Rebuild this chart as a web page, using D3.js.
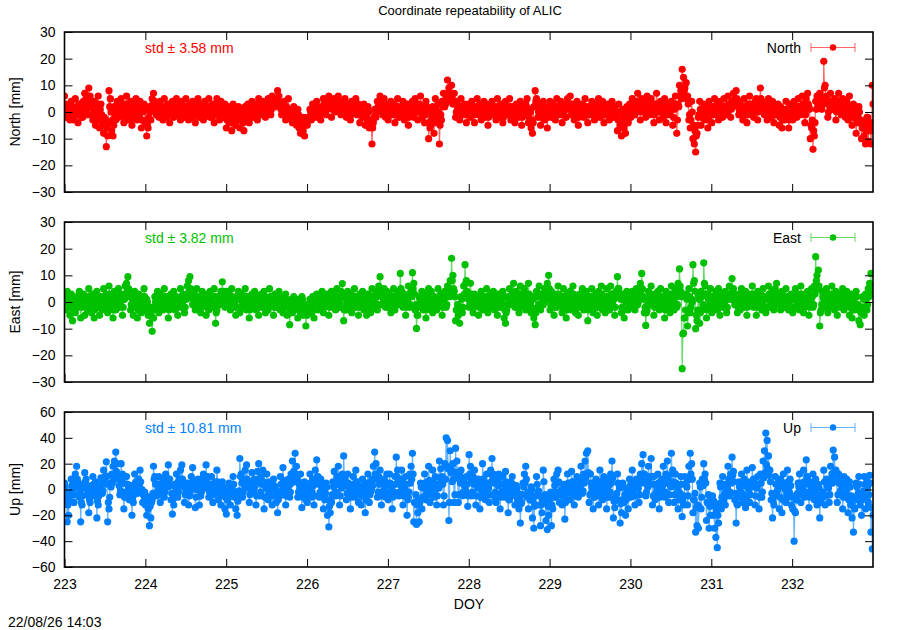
<!DOCTYPE html>
<html>
<head>
<meta charset="utf-8">
<script src="https://cdn.jsdelivr.net/npm/d3@7"></script>
<style>
  body { margin: 0; background: #fff; }
  svg { font-family: "Liberation Sans", Arial, sans-serif; }
</style>
</head>
<body>
<div id="chart"></div>
<script>
// epochs: regular sampling over DOY 223..233
const doyStart = 223;
const doyEnd = 233;
const dayTicks = [223, 224, 225, 226, 227, 228, 229, 230, 231, 232];

// residuals in mm, one row per day
const north = [
  6,3,-1,2,-3,4,1,-2,5,0, -4,3,1,-2,4,7,5,-1,9,6, 2,-3,4,-5,1,6,-6,3,-2,-8, -5,-13,-9,8,5,-7,-9,2,-3,4, -2,3,5,-1,-4,2,6,-3,1,4, -5,-2,3,5,-3,0,4,-6,2,3,
  -4,-9,-6,2,-3,5,7,4,-1,3, -2,4,1,-3,5,2,-1,3,-4,0, 4,-2,3,5,-1,2,-3,4,0,-2, 5,1,-3,3,-1,4,2,-4,1,5, -2,3,0,-3,4,2,-1,5,-2,1, 3,-4,2,5,-1,-3,4,1,-2,3,
  -6,2,-4,1,-7,3,-2,-5,0,2, -6,1,-3,-7,2,-1,3,-4,1,4, -2,3,0,-3,5,2,-1,4,1,-2, 3,5,1,-1,6,4,2,5,8,6, 3,-1,2,4,-3,1,5,-2,0,-4, 2,-3,-5,1,-6,-8,-3,-7,-9,-4,
  -5,-2,1,-3,3,-1,2,4,-2,1, -3,2,5,1,-1,4,6,2,-2,3, 5,0,3,6,1,-1,4,2,5,-2, 3,1,-3,4,0,2,5,-1,3,-4, 1,-2,3,-5,-1,2,-6,-3,-12,-4, 1,-2,4,2,6,3,-1,5,-2,2,
  -3,2,4,-1,3,-4,1,5,-2,2, -1,4,-3,1,3,-5,2,0,4,-2, 5,1,-3,3,6,-2,2,-4,4,1, -10,-6,-3,2,-8,5,-4,3,-12,-1, 4,7,2,5,12,9,6,10,3,7, -2,4,1,-3,5,2,-1,3,-4,2,
  3,-2,4,1,-4,2,5,-1,3,-3, 1,4,-2,3,-5,2,0,4,-1,2, -3,5,1,-2,3,-4,2,4,-1,1, 5,-3,2,0,-4,3,1,-2,4,-5, 2,-1,3,5,-4,1,-6,-8,2,8, 5,-2,3,-5,1,4,-3,2,-6,1,
  4,-2,3,1,-3,5,2,-1,4,-4, 1,3,-2,5,2,6,-1,3,-3,1, 4,-5,2,0,3,-2,5,1,-4,2, -1,4,2,-3,3,-1,5,-2,1,4, -4,2,-1,3,-3,1,4,-2,2,-1, -7,3,-5,-9,1,-6,-8,2,-4,3,
  -2,5,3,-1,4,7,2,-3,5,1, 4,-2,6,3,-1,5,2,-4,3,7, 1,-3,4,2,-2,5,-4,3,1,-1, 4,-5,2,6,-8,3,10,8,16,13, 9,11,6,-3,-6,4,-10,-12,-15,-8, -2,4,-5,1,3,-3,2,-6,4,1,
  -4,2,5,-1,3,-3,4,1,-2,5, 2,-1,6,3,-2,4,7,5,8,3, -1,4,2,-3,5,1,-4,3,6,0, 2,-2,4,5,-3,1,9,4,2,-1, 3,-3,5,1,-2,4,-4,2,-1,3, -5,2,-6,1,-3,4,-2,-6,3,1,
  -3,4,1,-2,5,2,-1,6,3,-4, 5,7,2,-10,-6,-14,-9,4,6,3, 7,2,5,19,10,6,-2,4,7,1, 3,5,-3,2,7,4,-1,5,2,-2, 4,-3,6,1,-5,3,-2,-8,-3,2, -4,-10,-6,-9,-12,-2,-11,-7,-12,10
];
// half-step epochs between the ones above
const northB = [
  1,-2,0,3,-1,2,-3,1,0,2, -1,3,0,-2,2,4,1,3,5,2, -1,1,-2,0,3,-3,1,-1,-4,-2, -3,-6,-4,2,0,-3,-5,-1,1,-2, 0,2,-1,1,-2,3,0,-1,2,-3, -1,1,-2,2,0,-2,1,-3,0,1,
  -3,-5,-2,0,1,3,4,2,0,-1, 1,2,-1,0,2,-2,1,0,-1,2, 1,0,2,-1,1,3,-2,0,2,1, 2,-1,0,1,-2,2,0,-1,3,1, 0,-1,2,-2,1,0,2,-1,1,-2, 0,2,-1,1,3,-1,0,2,-2,1,
  -3,-1,-2,0,-4,1,-2,-1,-3,0, -2,0,-4,-1,1,-2,0,-1,2,1, 0,2,-1,1,3,0,2,-1,1,0, 2,3,4,1,3,2,5,3,4,2, 1,0,3,-1,2,0,1,-2,1,-1, -2,0,-3,-1,-4,-3,-5,-2,-4,-3,
  -2,-3,0,-1,1,-2,0,2,1,-1, 0,1,3,2,1,2,4,3,1,2, 2,3,1,4,2,1,3,0,2,1, 0,2,-1,1,3,0,2,1,-1,0, -1,0,-2,-1,-3,0,-3,-5,-6,-2, -1,0,2,1,3,2,1,3,0,1,
  -1,0,2,1,0,-1,2,1,0,1, 1,2,-1,0,1,-2,0,1,2,0, 2,3,0,1,2,0,1,-1,2,0, -4,-5,-2,0,-3,1,-2,0,-5,-3, 2,4,3,5,7,6,4,6,3,4, 0,1,2,-1,2,1,0,2,-1,0,
  1,0,2,-1,0,1,2,0,1,-1, 2,1,0,1,-2,0,1,2,0,1, -1,2,0,-1,1,-2,0,2,1,0, 2,-1,1,0,-2,1,0,-1,2,-2, 1,0,2,1,-2,0,-3,-4,2,4, 2,0,1,-2,0,2,-1,0,-2,0,
  1,0,2,0,-1,2,1,0,2,-1, 0,1,2,3,1,3,0,2,-1,0, 1,-2,1,0,2,0,2,1,-1,1, 0,2,1,-1,1,0,2,-1,0,1, -1,1,0,2,-1,0,2,-1,0,-2, -3,0,-3,-4,-1,-3,-4,0,-2,1,
  0,2,1,0,2,3,1,0,2,1, 2,0,3,2,0,2,1,-1,2,3, 1,0,2,1,0,2,-1,1,0,1, 2,-2,1,3,-3,2,6,5,9,8, 6,5,3,-1,-3,0,-5,-7,-9,-5, -1,1,-2,0,1,-1,0,-3,1,0,
  -1,1,2,0,1,-1,2,1,0,2, 1,0,3,2,1,2,4,3,5,2, 0,2,1,-1,2,0,-1,1,3,1, 1,0,2,3,0,1,5,3,2,0, 1,-1,2,1,0,2,-1,1,0,1, -2,0,-3,0,-1,1,-1,-3,1,0,
  -1,2,0,-1,2,1,0,3,1,-1, 2,3,1,-5,-3,-7,-4,1,3,2, 3,1,3,9,5,3,0,2,3,1, 2,3,0,1,4,2,0,2,1,0, 1,-1,2,0,-2,1,-1,-4,-2,0, -3,-6,-4,-5,-7,-2,-6,-4,-7,3
];
const east = [
  2,-3,4,-1,-5,3,-7,1,-4,2, -2,4,-6,0,3,-5,2,-3,5,-1, -4,3,-6,1,4,-2,-5,2,-3,5, -1,3,-4,6,-2,1,-6,4,-3,2, 5,-2,3,-5,1,6,7,9.5,4,-3, 2,-5,4,-1,-6,3,1,-4,2,5,
  -3,1,-5,-8,-4,-11,-6,2,-2,4, -4,3,1,-3,5,-1,2,-6,-2,3, 0,4,-3,2,-5,1,5,-2,3,-4, 2,6,8,9.5,4,-1,3,-3,5,-2, 1,-4,4,-1,3,-5,2,-3,4,0, -2,5,-8,-3,2,-1,4,7.6,3,-2,
  4,-1,3,-3,5,-2,1,-5,2,4, -4,3,0,-2,5,-3,2,-6,1,3, -1,4,-3,2,-5,0,3,-2,4,-4, 1,-3,5,-1,2,-5,3,-2,0,4, -3,2,-4,1,3,-5,-2,-8.5,1,-4, 2,-3,0,-6,1,-4,2,-5,-2,-9,
  -5,-2,1,-4,2,-6,0,3,-3,1, -2,4,-4,2,-1,3,-5,1,4,-2, 3,-3,5,1,-2,4,6.9,-7,2,-3, 4,-1,3,-4,2,5,-2,1,-5,3, -1,4,-3,2,-5,3,1,-4,5,2, -2,4,-3,6,9.5,3,-1,5,-2,4,
  -2,3,-4,1,5,-3,2,4,-1,10.7, 4,-2,3,-5,1,6,-2,4,11,7, -3,-9.9,-5,2,-1,4,-3,3,-6,1, 5,-2,4,-4,2,0,-3,5,-1,3, -5,2,4,-2,6,3,8,16.4,10,4, -7,-3,-5,-8,2,-4,6,14,8,3,
  -2,7,1,-4,3,-1,2,-5,0,4, -3,2,-1,5,-4,1,3,-2,4,-3, 1,-5,3,-2,0,4,-6,-8,-3,2, 5,-1,3,7,-2,4,1,-4,6,2, -1,5,-3,3,7,0,-4,2,-6,-8.5, 4,-2,6,-3,3,-1,5,2,7,10,
  -3,4,1,-5,3,-2,6,-1,2,-4, 5,0,-6,3,-2,4,-3,6,1,-4, 2,-5,3,-1,5,-3,0,4,-7,2, -2,5,-4,1,3,-5,4,-1,6,-3, 1,-4,5,2,-3,6,-2,3,-5,4, 9.5,5,2,-4,3,-6,1,4,-3,2,
  -2,4,1,-3,5,-1,3,7,10.7,2, -4,-8.8,-3,4,-1,6,2,-5,3,0, 4,-3,5,-2,2,-6,4,-1,3,-4, 6,1,-3,5,-2,7,12.4,4,-25,-11.7, -6,3,-9,5,-4,1,14,8,-10,-7, 2,-8,4,-3,14.7,6,-6,3,-2,5,
  -4,2,-1,4,-3,5,-5,1,3,-2, 4,-4,2,6,3,8.8,5,-1,2,-4, 3,-3,5,0,-2,4,-5,2,-1,3, 6,-2,1,-5,4,-1,3,-3,5,2, -4,2,6,-2,1,4,-3,5,7,3, -1,-3,4,1,-2,5,0,-3,2,3,
  -4,2,5,-2,3,-3,6,1,-4,3, -1,4,-5,2,5,-2,6,17,10,12, -9,-3,4,1,-2,5,-4,3,-1,6, 2,-3,4,-5,1,3,-2,5,-3,2, 4,-1,-5,3,-6,1,-3,4,-2,-7, -8.5,-4,2,-5,3,-3,5,7,10.7,6
];
const eastB = [
  0,-1,2,0,-2,1,-3,0,-1,1, 0,2,-2,1,1,-2,1,-1,2,0, -1,1,-3,0,2,-1,-2,1,-1,2, 0,1,-2,3,0,1,-3,2,-1,1, 2,0,1,-2,1,3,4,5,2,-1, 1,-2,2,0,-3,1,0,-2,1,2,
  -2,0,-3,-5,-2,-6,-3,0,-1,1, -2,1,0,-1,2,0,1,-3,-1,1, 0,2,-1,1,-2,0,2,-1,1,-2, 1,3,4,5,2,0,1,-1,2,-1, 0,-2,2,0,1,-2,1,-1,2,0, -1,2,-4,-1,1,0,2,4,1,-1,
  2,0,1,-1,2,-1,0,-2,1,2, -2,1,0,-1,2,-1,1,-3,0,1, 0,2,-1,1,-2,0,1,-1,2,-2, 0,-1,2,0,1,-2,1,-1,0,2, -1,1,-2,0,1,-2,-1,-4,0,-2, 1,-1,0,-3,0,-2,1,-2,-1,-4,
  -2,-1,0,-2,1,-3,0,1,-1,0, -1,2,-2,1,0,1,-2,0,2,-1, 1,-1,2,0,-1,2,3,-3,1,-1, 2,0,1,-2,1,2,-1,0,-2,1, 0,2,-1,1,-2,1,0,-2,2,1, -1,2,-1,3,5,2,0,2,-1,2,
  -1,1,-2,0,2,-1,1,2,0,5, 2,-1,1,-2,0,3,-1,2,5,3, -1,-5,-2,1,0,2,-1,1,-3,0, 2,-1,2,-2,1,0,-1,2,0,1, -2,1,2,-1,3,2,4,8,5,2, -3,-1,-2,-4,1,-2,3,7,4,1,
  -1,3,0,-2,1,0,1,-2,0,2, -1,1,0,2,-2,0,1,-1,2,-1, 0,-2,1,-1,0,2,-3,-4,-1,1, 2,0,1,3,-1,2,0,-2,3,1, 0,2,-1,1,3,0,-2,1,-3,-4, 2,-1,3,-1,1,0,2,1,3,5,
  -1,2,0,-2,1,-1,3,0,1,-2, 2,0,-3,1,-1,2,-1,3,0,-2, 1,-2,1,0,2,-1,0,2,-3,1, -1,2,-2,0,1,-2,2,0,3,-1, 0,-2,2,1,-1,3,-1,1,-2,2, 5,2,1,-2,1,-3,0,2,-1,1,
  -1,2,0,-1,2,0,1,3,5,1, -2,-4,-1,2,0,3,1,-2,1,0, 2,-1,2,-1,1,-3,2,0,1,-2, 3,0,-1,2,-1,3,6,2,-12,-6, -3,1,-4,2,-2,0,7,4,-5,-3, 1,-4,2,-1,7,3,-3,1,-1,2,
  -2,1,0,2,-1,2,-2,0,1,-1, 2,-2,1,3,1,4,2,0,1,-2, 1,-1,2,0,-1,2,-2,1,0,1, 3,-1,0,-2,2,0,1,-1,2,1, -2,1,3,-1,0,2,-1,2,3,1, 0,-1,2,0,-1,2,0,-1,1,1,
  -2,1,2,-1,1,-1,3,0,-2,1, 0,2,-2,1,2,-1,3,8,5,6, -4,-1,2,0,-1,2,-2,1,0,3, 1,-1,2,-2,0,1,-1,2,-1,1, 2,0,-2,1,-3,0,-1,2,-1,-3, -4,-2,1,-2,1,-1,2,3,5,3
];
const up = [
  5,-8,-25,-20,-5,8,2,-10,12,18, 6,-6,-25,-12,4,13,8,-4,-18,-10, 3,10,-5,6,-22,-12,2,9,-3,15, 10,21.5,-25,-15,5,12,18,22,29,20, 8,-4,20,12,-15,-6,10,4,-8,3, -20,-10,12,6,-3,8,15,-2,-10,-5,
  -12,-20,-15,-28,-22,-8,18,10,-5,4, 10,-10,-3,8,-6,12,5,19,8,-8, -19,-12,4,12,-6,8,15,19,6,-10, -2,5,-12,-4,10,17,6,-14,0,8, -12,-5,8,12,2,19,10,-6,4,10, -10,-3,6,15,-8,2,-12,6,-4,-15,
  -19,-8,5,-12,2,10,-6,-15,-20,-4, 24,12,-6,8,15,19,4,-10,6,13, -2,8,-12,14,20,-5,10,15,-15,3, 12,-8,6,-3,-12,8,2,-10,-18,-6, 10,-4,17,5,-12,-2,8,-6,12,22, 14,28,18,-6,4,12,-14,-4,6,-8,
  -10,4,12,-6,8,-12,15,23,10,-6, 8,2,-15,-8,5,-20,-29,-18,-10,6, 14,-5,10,18,-12,4,12,26,8,-8, 12,3,-15,-4,10,-6,15,6,-10,2, -12,8,-4,-18,5,12,-10,-2,8,18, 29,20,-6,10,15,-12,-4,8,-6,12,
  -8,12,4,-15,-5,10,25,15,-5,8, 15,-12,2,10,-20,-6,12,18,28,-25, -10,-27,-18,-25,5,-15,4,12,-8,6, 18,-10,2,15,-6,10,-12,4,22,16, 10,-12,20,40,38,-24,30,15,20,-10, 32,22,-10,12,15,-5,8,-4,10,-13,
  27,18,-5,10,15,-12,4,8,-15,-6, 20,6,-8,12,3,-10,15,24,12,-6, -10,8,12,-15,-4,10,-6,14,2,-18, -8,6,10,-4,-12,3,-8,-15,-26,-10, 5,12,18,-6,-15,-8,2,-22,-30,-12, 10,-4,-12,-28,-18,15,-10,-24,-31,-20,
  -5,-28,-15,8,-6,12,15,-10,-2,-12, 4,-23,-8,12,2,-8,14,6,-12,-4, 10,-6,8,18,-3,12,22,28,30,-10, 12,2,-15,-6,8,-4,-12,15,6,-8, 10,-2,-15,8,-6,12,22,-22,-14,-8, 12,4,-26,-18,5,-10,-20,-4,-15,8,
  -6,15,2,-12,8,4,-10,12,20,27, 12,-5,6,18,10,24,-12,10,-8,4, 12,-15,-5,8,18,-6,12,22,-10,6, 28,15,-10,12,4,-15,-8,10,-21,-12, 10,5,-12,18,28,20,-18,-8,-33,-28, -30,5,-15,8,20,12,-24,-10,-30,-20,
  -12,-20,-30,-37,-45,-26,5,-15,10,-8, -12,4,18,-5,12,25,14,-8,-26,-12, 6,-6,12,-10,8,-14,15,2,-10,5, 17,8,-12,4,10,-15,12,-6,22,30, 43.7,38,26,15,-8,-22,-12,10,-4,5, -15,8,-18,12,2,-10,15,-6,8,-12,
  -15,-40,-18,-8,5,12,-10,4,15,-6, 23,10,-14,6,-2,12,-8,8,-12,4, -22,-10,-6,15,-12,8,4,-10,18,12, 30.5,25,15,-10,12,-4,8,-15,10,-6, 8,-18,6,-12,-22,-33,-15,5,-8,10, -12,-20,-4,10,-15,6,-10,11,-33,-46
];
const upB = [
  2,-3,-12,-8,-2,3,0,-4,5,8, 2,-2,-10,-5,1,6,3,-1,-8,-4, 1,4,-2,2,-9,-5,0,4,-1,6, 4,10,-10,-6,2,5,8,10,14,9, 3,-1,9,5,-6,-2,4,1,-3,1, -8,-4,5,2,-1,3,6,0,-4,-2,
  -5,-9,-6,-13,-10,-3,8,4,-2,1, 4,-4,-1,3,-2,5,2,8,3,-3, -8,-5,1,5,-2,3,6,8,2,-4, 0,2,-5,-1,4,7,2,-6,0,3, -5,-2,3,5,1,8,4,-2,1,4, -4,-1,2,6,-3,1,-5,2,-1,-6,
  -8,-3,2,-5,0,4,-2,-6,-9,-1, 10,5,-2,3,6,8,1,-4,2,5, 0,3,-5,6,8,-2,4,6,-6,1, 5,-3,2,-1,-5,3,0,-4,-8,-2, 4,-1,7,2,-5,0,3,-2,5,9, 6,12,8,-2,1,5,-6,-1,2,-3,
  -4,1,5,-2,3,-5,6,10,4,-2, 3,0,-6,-3,2,-8,-13,-8,-4,2, 6,-2,4,8,-5,1,5,11,3,-3, 5,1,-6,-1,4,-2,6,2,-4,0, -5,3,-1,-8,2,5,-4,0,3,8, 12,8,-2,4,6,-5,-1,3,-2,5,
  -3,5,1,-6,-2,4,10,6,-2,3, 6,-5,0,4,-8,-2,5,8,12,-10, -4,-12,-8,-10,2,-6,1,5,-3,2, 7,-4,0,6,-2,4,-5,1,9,6, 4,-5,8,18,16,-10,13,6,8,-4, 13,9,-4,5,6,-2,3,-1,4,-5,
  12,7,-2,4,6,-5,1,3,-6,-2, 8,2,-3,5,1,-4,6,10,5,-2, -4,3,5,-6,-1,4,-2,6,1,-8, -3,2,4,-1,-5,1,-3,-6,-11,-4, 2,5,8,-2,-6,-3,0,-9,-13,-5, 4,-1,-5,-12,-8,6,-4,-10,-13,-8,
  -2,-12,-6,3,-2,5,6,-4,0,-5, 1,-10,-3,5,0,-3,6,2,-5,-1, 4,-2,3,8,-1,5,9,12,13,-4, 5,0,-6,-2,3,-1,-5,6,2,-3, 4,0,-6,3,-2,5,9,-9,-6,-3, 5,1,-11,-8,2,-4,-8,-1,-6,3,
  -2,6,0,-5,3,1,-4,5,8,12, 5,-2,2,8,4,10,-5,4,-3,1, 5,-6,-2,3,8,-2,5,9,-4,2, 12,6,-4,5,1,-6,-3,4,-9,-5, 4,2,-5,8,12,8,-8,-3,-14,-12, -13,2,-6,3,8,5,-10,-4,-13,-8,
  -5,-9,-13,-16,-20,-11,2,-6,4,-3, -5,1,8,-2,5,11,6,-3,-11,-5, 2,-2,5,-4,3,-6,6,0,-4,2, 7,3,-5,1,4,-6,5,-2,9,13, 19,16,11,6,-3,-9,-5,4,-1,2, -6,3,-8,5,0,-4,6,-2,3,-5,
  -6,-17,-8,-3,2,5,-4,1,6,-2, 10,4,-6,2,0,5,-3,3,-5,1, -9,-4,-2,6,-5,3,1,-4,8,5, 13,11,6,-4,5,-1,3,-6,4,-2, 3,-8,2,-5,-9,-14,-6,2,-3,4, -5,-8,-1,4,-6,2,-4,5,-14,-20
];

const panels = [
  { name: "North", label: "North [mm]", a: north, b: northB, std: "3.58", color: "#ff0000", top: 32, bottom: 192, domain: [-30, 30], ticks: [-30, -20, -10, 0, 10, 20, 30] },
  { name: "East", label: "East [mm]", a: east, b: eastB, std: "3.82", color: "#00c000", top: 222, bottom: 382, domain: [-30, 30], ticks: [-30, -20, -10, 0, 10, 20, 30] },
  { name: "Up", label: "Up [mm]", a: up, b: upB, std: "10.81", color: "#0080ff", top: 412, bottom: 567, domain: [-60, 60], ticks: [-60, -40, -20, 0, 20, 40, 60] }
];

const W = 900, H = 630;
const left = 64.5, right = 873;
const tickLen = 8;

const svg = d3.select("#chart").append("svg")
  .attr("width", W)
  .attr("height", H);

const x = d3.scaleLinear().domain([doyStart, doyEnd]).range([left, right]);

svg.append("text")
  .attr("x", 470)
  .attr("y", 15)
  .attr("text-anchor", "middle")
  .style("font-size", "13px")
  .text("Coordinate repeatability of ALIC");

panels.forEach((p, k) => {
  const y = d3.scaleLinear().domain(p.domain).range([p.bottom, p.top]);
  const n = p.a.length;
  const step = (doyEnd - doyStart) / (n - 0.5);
  // merge both epoch sets in time order
  const pts = [];
  p.a.forEach((v, i) => {
    pts.push([doyStart + i * step, v]);
    if (i < p.b.length) pts.push([doyStart + (i + 0.5) * step, p.b[i]]);
  });

  const clipId = "clip" + k;
  svg.append("clipPath").attr("id", clipId)
    .append("rect")
    .attr("x", left).attr("y", p.top)
    .attr("width", right - left).attr("height", p.bottom - p.top);

  const g = svg.append("g").attr("clip-path", "url(#" + clipId + ")");

  const line = d3.line().x((d) => x(d[0])).y((d) => y(d[1]));
  g.append("path")
    .datum(pts)
    .attr("d", line)
    .attr("fill", "none")
    .attr("stroke", p.color)
    .attr("stroke-opacity", 0.6)
    .attr("stroke-width", 1.2);

  g.selectAll("circle.pt")
    .data(pts)
    .enter()
    .append("circle")
    .attr("class", "pt")
    .attr("cx", (d) => x(d[0]))
    .attr("cy", (d) => y(d[1]))
    .attr("r", 3.6)
    .attr("fill", p.color);

  // y axis left with labels, mirrored on the right
  const yl = svg.append("g")
    .attr("transform", "translate(" + left + ",0)")
    .call(d3.axisLeft(y).tickValues(p.ticks).tickSize(-tickLen).tickPadding(tickLen + 1));
  const yr = svg.append("g")
    .attr("transform", "translate(" + right + ",0)")
    .call(d3.axisRight(y).tickValues(p.ticks.slice(1, -1)).tickSize(-tickLen).tickFormat(""));

  // x axis ticks bottom and top
  const xb = svg.append("g")
    .attr("transform", "translate(0," + p.bottom + ")")
    .call(d3.axisBottom(x).tickValues(dayTicks).tickSize(-tickLen).tickPadding(tickLen + 4)
      .tickFormat(k === 2 ? d3.format("d") : ""));
  const xt = svg.append("g")
    .attr("transform", "translate(0," + p.top + ")")
    .call(d3.axisTop(x).tickValues(dayTicks.slice(1)).tickSize(-tickLen).tickFormat(""));

  [yl, yr, xb, xt].forEach((a) => {
    a.select(".domain").remove();
    a.selectAll("line").attr("stroke", "#000").attr("stroke-width", 1);
    a.selectAll("text").attr("fill", "#000").style("font-size", "14px");
  });

  svg.append("rect")
    .attr("x", left).attr("y", p.top)
    .attr("width", right - left).attr("height", p.bottom - p.top)
    .attr("fill", "none")
    .attr("stroke", "#000")
    .attr("stroke-width", 1.6);

  // axis label
  const mid = (p.top + p.bottom) / 2;
  svg.append("text")
    .attr("transform", "translate(20," + mid + ") rotate(-90)")
    .attr("text-anchor", "middle")
    .style("font-size", "14px")
    .text(p.label);

  // std note
  svg.append("text")
    .attr("x", 145)
    .attr("y", p.top + 21)
    .attr("fill", p.color)
    .style("font-size", "14px")
    .text("std \u00b1 " + p.std + " mm");

  // key
  const ky = p.top + 15.5;
  svg.append("text")
    .attr("x", 801)
    .attr("y", p.top + 21)
    .attr("text-anchor", "end")
    .style("font-size", "14px")
    .text(p.name);
  const key = svg.append("g").attr("stroke", p.color).attr("stroke-opacity", 0.6);
  key.append("line").attr("x1", 811).attr("x2", 855).attr("y1", ky).attr("y2", ky);
  key.append("line").attr("x1", 811).attr("x2", 811).attr("y1", ky - 4.5).attr("y2", ky + 4.5);
  key.append("line").attr("x1", 855).attr("x2", 855).attr("y1", ky - 4.5).attr("y2", ky + 4.5);
  svg.append("circle").attr("cx", 833).attr("cy", ky).attr("r", 3.2).attr("fill", p.color);
});

svg.append("text")
  .attr("x", 469)
  .attr("y", 609)
  .attr("text-anchor", "middle")
  .style("font-size", "14px")
  .text("DOY");

svg.append("text")
  .attr("x", 8)
  .attr("y", 627)
  .style("font-size", "14px")
  .text("22/08/26 14:03");
</script>
</body>
</html>
